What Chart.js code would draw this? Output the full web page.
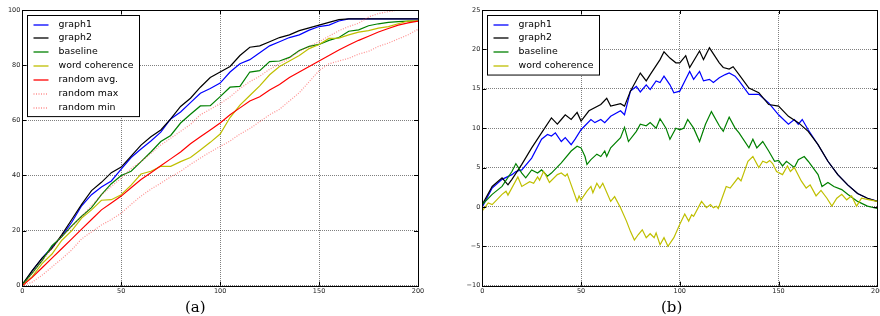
<!DOCTYPE html>
<html>
<head>
<meta charset="utf-8">
<script src="https://cdn.jsdelivr.net/npm/chart.js@4.4.0/dist/chart.umd.min.js"></script>
<style>
body { margin: 0; background: #fff; width: 880px; height: 316px; overflow: hidden; position: relative; }
.box { position: absolute; top: 0; width: 440px; height: 316px; }
.cap { position: absolute; top: 300px; font: 15px "DejaVu Serif"; line-height: 15px; color: #000; }
</style>
</head>
<body>
<div class="box" style="left:0"><canvas id="chartA" width="440" height="316"></canvas></div>
<div class="box" style="left:440px"><canvas id="chartB" width="440" height="316"></canvas></div>
<div class="cap" style="left:185px">(a)</div>
<div class="cap" style="left:661px">(b)</div>
<script>
// (a) cumulative curves, sampled every 5 steps
var leftX = [0,5,10,15,20,25,30,35,40,45,50,55,60,65,70,75,80,85,90,95,100,
             105,110,115,120,125,130,135,140,145,150,155,160,165,170,175,180,185,190,195,200];
var graph1A = [0,5.4,10,14,18,23,29,33,35.8,38,42.3,46.5,49.6,52.5,55.7,60.5,63,66.4,69.8,71.5,73.5,
               77.5,80.5,82,84.5,87,88.5,90,91,92.7,94,94.5,96,96.8,96.8,96.8,96.8,96.8,96.8,96.8,96.8];
var graph2A = [0.5,5.5,10,13.5,18.5,24,29.5,34.5,37.5,41,43,47,51,54,56.5,60.5,65,68,72,75.5,77.5,
               79.5,83.5,86.5,87,88.5,90,91,92.5,93.5,94.5,95.5,96.5,96.8,96.8,96.8,96.8,96.8,96.8,96.8,96.8];
var baselineA = [0.3,4.6,9.1,14.5,17.8,21.7,25.2,28.3,33,37,40,41.5,45,48.5,52.3,54.5,59,62.2,65.2,65.3,68.6,
                 72,72.3,77.5,78,81.3,81.5,82.8,85.3,86.8,87.5,89,90,92.3,92.8,94.3,95,95.5,95.8,96,96];
var wordA = [0,3.3,8,11.5,16.5,20,24.5,27.5,31,31.2,33,36.5,40.5,41.5,43.3,43.3,45,46.5,49.2,52,55,
             61,65.5,69,72.5,76.5,79.5,81.5,83.5,86,87.5,89.7,89.8,91,92,92.5,93.4,94,95,96,96];
var randAvgA = [0,3,6.5,10,13.5,17,20.5,24,27.5,30,32.5,35.5,38.5,41,43.5,46,48.5,51.5,54,56.5,59,
                62,64.5,67,68.5,71,73,75.5,77.5,79.5,81.5,83.5,85.5,87.3,89,90.5,92,93.3,94.5,95.3,96];
var randMaxA = [0,4.5,9,13.5,18,21.5,25,29,33,36,39,42.5,45,48,51,53.5,56,58.5,62,64,66,
                68.5,71.5,74,76,78.5,80.5,82.5,85,86.7,88.5,90.5,92.5,94,95.2,97.5,98.7,99.4,100,100,100];
var randMinA = [0,1.3,3.8,6.8,9.8,13,17,19.5,22,24,26.3,29.5,32.5,35,37.2,39.5,41.5,44,46.3,48.5,50.5,
                52.5,55,57,59.5,62,64,67,70,74,78,80.5,81.5,82.5,84,85,86.8,88,89.5,91,93];

// (b) difference curves, read at the turning points
var graph1BX = [0,5,10,15,17,20,25,30,33,35,37,40,42,45,47,50,55,57,60,62,65,70,72,75,78,80,83,85,88,90,
                92,95,97,100,103,105,107,110,112,115,117,120,123,125,128,130,135,140,145,150,155,158,160,162,165,
                170,175,180,185,190,195,200];
var graph1BY = [0,2.4,3.5,4.1,4.5,4.7,6.2,8.6,9.2,9.0,9.4,8.3,8.8,7.9,8.6,9.8,11.1,10.7,11.1,10.7,11.5,12.2,11.7,14.7,15.3,14.6,15.5,14.9,16,15.8,
                16.6,15.5,14.5,14.7,16.2,17.2,16.2,17.2,16,16.2,15.8,16.4,16.8,17,16.6,16,14.3,14.3,13.2,11.7,10.5,11.1,10.5,11.1,9.8,
                7.9,5.8,4.1,2.8,1.7,1.1,0.7];
var graph2BX = [0,5,10,13,15,20,25,30,35,38,40,42,45,48,50,54,60,63,65,70,72,75,80,83,85,90,92,95,98,100,103,
                105,110,112,115,120,122,125,127,130,135,140,145,150,155,160,165,170,175,180,185,190,195,200];
var graph2BY = [0.3,2.6,3.7,2.8,3.5,5.4,7.5,9.4,11.3,10.5,11.1,11.7,11.1,12,10.9,12.2,13,13.8,12.8,13.1,12.8,14.7,17,16,16.8,18.7,19.7,18.9,18.3,18.3,19.2,
                17.7,19.8,18.7,20.2,18.3,17.7,17.5,17.8,16.8,15.1,14.5,13,12.8,11.5,10.7,9.6,7.9,5.8,4.1,2.8,1.7,1.1,0.7];
var baselineBX = [0,5,10,15,17,20,22,25,28,30,33,35,40,45,48,50,52,53,55,58,60,62,63,65,70,72,74,78,80,83,
                  85,88,90,93,95,98,100,102,104,107,110,113,116,120,122,125,128,130,135,137,139,142,145,148,150,152,154,156,158,160,
                  163,165,170,172,175,178,182,185,190,195,200];
var baselineBY = [0.3,1.6,2.6,4.5,5.5,4.3,3.7,4.7,4.3,4.7,3.9,4.3,5.6,7.1,7.7,7.5,6.4,5.4,6.0,6.7,6.4,7.1,6.4,7.5,8.8,10.1,8.3,9.6,10.5,10.3,
                  10.7,10.0,11.2,10.0,8.6,10.0,9.8,10,11.1,10,8.3,10.5,12.1,10.3,9.6,11.4,10,9.4,7.5,8.6,7.5,8.3,7.1,5.8,5.9,5.2,5.8,5.4,5.0,6.0,
                  6.4,5.8,4.1,2.6,3.1,2.6,2.2,1.6,0.7,0.1,-0.2];
var wordBX = [0,3,5,10,12,13,18,20,24,26,28,29,31,32,34,38,40,42,43,45,48,49,50,53,55,56,58,59.5,61,65,
              67,70,73,75,77,79,81,83,85,87,88,90,92,94,97,100,102.5,104.5,106,107,111,113.5,115.5,117,118.5,119.5,123.5,125.5,129.5,131,
              134.5,137,140,142,144,145.5,147,149,152,154.5,156,158,161.5,164,166,169,171.5,174.5,177,179.5,182,184.5,187,189.5,192,196,200];
var wordBY = [-0.5,0.5,0.3,1.6,2.0,1.5,3.8,2.6,3.2,3.0,3.8,3.4,4.5,4.1,3.1,4.1,4.3,3.9,4.2,2.8,0.7,1.4,0.9,2.0,2.6,1.8,3.0,2.4,3.0,0.7,
              1.3,-0.1,-1.8,-3.1,-4.2,-3.5,-2.9,-3.9,-3.4,-3.9,-3.3,-4.8,-3.9,-5.0,-3.9,-2.2,-0.9,-1.8,-1.0,-1.2,0.7,-0.1,0.3,-0.1,0.1,-0.2,2.6,2.4,3.7,3.3,
              5.8,6.4,5.0,5.8,5.6,5.9,5.5,4.5,4.1,5.2,4.5,5.0,3.3,2.4,2.8,1.4,2.1,1.1,0.1,1.1,1.6,0.9,1.4,0.1,1.1,0.9,0.7];

function pts(xs, ys) {
    return xs.map(function (x, i) { return {x: x, y: ys[i]}; });
}

function series(label, xs, ys, color, dash) {
    return {
        label: label,
        data: pts(xs, ys),
        borderColor: color,
        borderWidth: 1.2,
        borderDash: dash || [],
        pointRadius: 0,
        tension: 0,
        fill: false
    };
}

// matplotlib look: inward ticks on all sides, black frame, boxed legend in the upper left
var mplFrame = {
    id: 'mplFrame',
    afterDatasetsDraw: function (chart, args, opts) {
        var ctx = chart.ctx, a = chart.chartArea, sx = chart.scales.x, sy = chart.scales.y;
        ctx.save();
        ctx.strokeStyle = '#000';
        ctx.lineWidth = 1;
        ctx.setLineDash([]);
        ctx.beginPath();
        sx.ticks.forEach(function (t) {
            var p = Math.round(sx.getPixelForValue(t.value)) + 0.5;
            ctx.moveTo(p, a.bottom); ctx.lineTo(p, a.bottom - 4);
            ctx.moveTo(p, a.top); ctx.lineTo(p, a.top + 4);
        });
        sy.ticks.forEach(function (t) {
            var p = Math.round(sy.getPixelForValue(t.value)) + 0.5;
            ctx.moveTo(a.left, p); ctx.lineTo(a.left + 4, p);
            ctx.moveTo(a.right, p); ctx.lineTo(a.right - 4, p);
        });
        ctx.stroke();
        ctx.strokeRect(Math.round(a.left) + 0.5, Math.round(a.top) + 0.5,
                       Math.round(a.right) - Math.round(a.left), Math.round(a.bottom) - Math.round(a.top));

        // legend
        var ds = chart.data.datasets;
        var bx = Math.round(a.left + opts.x) + 0.5, by = Math.round(a.top + opts.y) + 0.5;
        var h = 18 + (ds.length - 1) * opts.row;
        ctx.fillStyle = '#fff';
        ctx.fillRect(bx, by, opts.w, h);
        ctx.strokeStyle = '#000';
        ctx.strokeRect(bx, by, opts.w, h);
        ctx.font = '9.4px "DejaVu Sans"';
        ctx.textBaseline = 'middle';
        ds.forEach(function (d, i) {
            var cy = Math.round(by + 9 + i * opts.row);
            ctx.beginPath();
            ctx.lineWidth = 1.3;
            ctx.strokeStyle = opts.colors[i];
            ctx.setLineDash(d.borderDash);
            ctx.moveTo(bx + 6, cy);
            ctx.lineTo(bx + 21, cy);
            ctx.stroke();
            ctx.setLineDash([]);
            ctx.fillStyle = '#000';
            ctx.fillText(d.label, bx + 31, cy);
        });
        ctx.restore();
    }
};

function minusFmt(v) {
    return v < 0 ? '\u2212' + (-v) : String(v);
}

function makeChart(id, datasets, yMin, yMax, yStep, yWidth, padRight) {
    var colors = datasets.map(function (d) { return d.borderColor; });
    datasets.forEach(function (d, i) { d.order = datasets.length - i; });
    var tickFont = {family: 'DejaVu Sans', size: 6.5};
    return new Chart(document.getElementById(id).getContext('2d'), {
        type: 'line',
        data: {datasets: datasets},
        options: {
            responsive: false,
            animation: false,
            events: [],
            layout: {padding: {top: 10, right: padRight, left: 0, bottom: 0}},
            plugins: {
                legend: {display: false},
                tooltip: {enabled: false},
                mplFrame: {x: 4.4, y: 5, w: 112, row: 13.85, colors: colors}
            },
            scales: {
                x: {
                    type: 'linear', min: 0, max: 200,
                    ticks: {stepSize: 50, font: tickFont, color: '#222', padding: 2, maxRotation: 0},
                    grid: {color: 'rgba(0,0,0,0.5)', lineWidth: 1, drawTicks: false},
                    border: {display: false, dash: [1, 1]},
                    afterFit: function (s) { s.height = 30.3; s.paddingLeft = 0; s.paddingRight = 0; }
                },
                y: {
                    min: yMin, max: yMax,
                    ticks: {stepSize: yStep, font: tickFont, color: '#222', padding: 2, callback: minusFmt},
                    grid: {color: 'rgba(0,0,0,0.5)', lineWidth: 1, drawTicks: false},
                    border: {display: false, dash: [1, 1]},
                    afterFit: function (s) { s.width = yWidth; s.paddingTop = 0; s.paddingBottom = 0; }
                }
            }
        },
        plugins: [mplFrame]
    });
}

makeChart('chartA', [
    series('graph1', leftX, graph1A, '#0000ff'),
    series('graph2', leftX, graph2A, '#000000'),
    series('baseline', leftX, baselineA, '#008000'),
    series('word coherence', leftX, wordA, '#bfbf00'),
    series('random avg.', leftX, randAvgA, '#ff0000'),
    series('random max', leftX, randMaxA, 'rgba(255,70,70,0.6)', [1, 1.5]),
    series('random min', leftX, randMinA, 'rgba(255,70,70,0.6)', [1, 1.5])
], 0, 100, 20, 22.3, 22);

makeChart('chartB', [
    series('graph1', graph1BX, graph1BY, '#0000ff'),
    series('graph2', graph2BX, graph2BY, '#000000'),
    series('baseline', baselineBX, baselineBY, '#008000'),
    series('word coherence', wordBX, wordBY, '#bfbf00')
], -10, 25, 5, 42.3, 2.7);
</script>
</body>
</html>
